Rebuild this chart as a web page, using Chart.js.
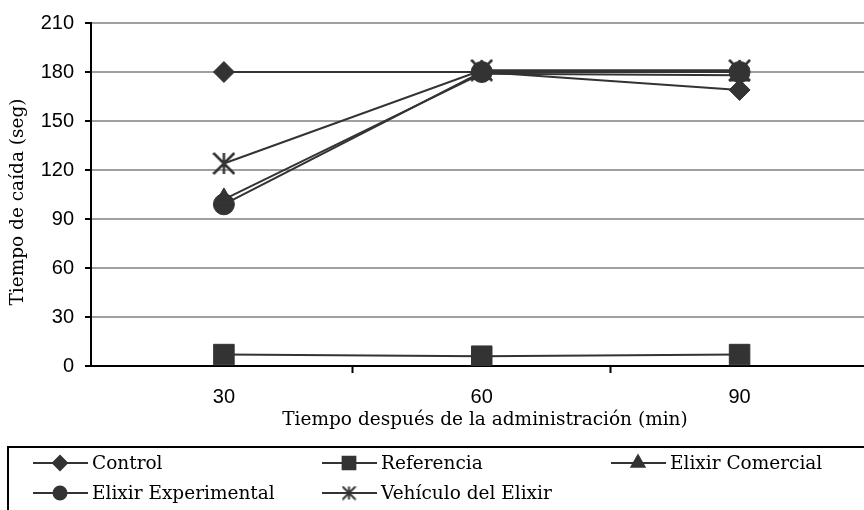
<!DOCTYPE html>
<html>
<head>
<meta charset="utf-8">
<script src="https://cdn.jsdelivr.net/npm/chart.js@4.4.1/dist/chart.umd.min.js"></script>
<style>
  html, body { margin: 0; padding: 0; background: #fff; overflow: hidden; }
  #wrap { width: 880px; height: 510px; }
</style>
</head>
<body>
<div id="wrap"><canvas id="grafico" width="880" height="510"></canvas></div>
<script>
// minutos después de la administración
const categorias = [30, 60, 90];
const yTicks = [0, 30, 60, 90, 120, 150, 180, 210];

// tiempo de caída (seg) por grupo
const control = [180, 180, 169];
const referencia = [7, 6, 7];
const elixirComercial = [102, 179, 178];
const elixirExperimental = [99, 180, 180];
const vehiculoElixir = [124, 181, 181];

const COLOR = '#333333';
const SERIF = '"DejaVu Serif", serif';
const SANS = '"Liberation Sans", Arial, sans-serif';

// asterisco de seis brazos (vertical + X)
function crearAsterisco(tam, grosor) {
    const c = document.createElement('canvas');
    c.width = tam; c.height = tam;
    const g = c.getContext('2d');
    const m = tam / 2, r = tam / 2 - 1;
    g.strokeStyle = COLOR;
    g.lineWidth = grosor;
    g.beginPath();
    g.moveTo(m, m - r); g.lineTo(m, m + r);
    g.moveTo(m - r, m - r); g.lineTo(m + r, m + r);
    g.moveTo(m + r, m - r); g.lineTo(m - r, m + r);
    g.stroke();
    return c;
}

function puntos(valores) {
    return categorias.map((c, i) => ({ x: c, y: valores[i] }));
}

function serie(label, valores, estilo, radio, radioLeyenda) {
    return {
        label: label,
        data: puntos(valores),
        borderColor: COLOR,
        backgroundColor: COLOR,
        borderWidth: 2,
        pointStyle: estilo,
        pointRadius: radio,
        pointBackgroundColor: COLOR,
        pointBorderColor: COLOR,
        pointBorderWidth: 1,
        tension: 0,
        radioLeyenda: radioLeyenda
    };
}

// títulos de ejes y leyenda en caja con tres columnas
const leyendaCaja = {
    id: 'leyendaCaja',
    afterDraw(chart) {
        const ctx = chart.ctx;
        ctx.save();
        ctx.fillStyle = '#000';
        ctx.font = '18.5px ' + SERIF;
        ctx.textAlign = 'center';
        ctx.textBaseline = 'middle';
        ctx.fillText('Tiempo después de la administración (min)', 485, 420);
        ctx.save();
        ctx.translate(18, 202);
        ctx.rotate(-Math.PI / 2);
        ctx.fillText('Tiempo de caída (seg)', 0, 0);
        ctx.restore();

        ctx.strokeStyle = '#000';
        ctx.lineWidth = 2;
        ctx.strokeRect(8, 447, 900, 100);
        chart.data.datasets.forEach((ds, i) => {
            const x = 33 + (i % 3) * 289;
            const y = 463 + Math.floor(i / 3) * 30;
            ctx.strokeStyle = COLOR;
            ctx.lineWidth = 2;
            ctx.beginPath();
            ctx.moveTo(x, y);
            ctx.lineTo(x + 55, y);
            ctx.stroke();
            ctx.fillStyle = COLOR;
            const estilo = ds.pointStyle instanceof HTMLCanvasElement ? crearAsterisco(15, 2) : ds.pointStyle;
            Chart.helpers.drawPoint(ctx, {
                pointStyle: estilo,
                radius: ds.radioLeyenda,
                rotation: 0,
                borderWidth: 1
            }, x + 27, y);
            ctx.fillStyle = '#000';
            ctx.font = '18.5px ' + SERIF;
            ctx.textBaseline = 'middle';
            ctx.textAlign = 'left';
            ctx.fillText(ds.label, x + 59, y + 1);
        });
        ctx.restore();
    }
};

const ctx = document.getElementById('grafico').getContext('2d');
new Chart(ctx, {
    type: 'line',
    data: {
        datasets: [
            serie('Control', control, 'rectRot', 10.5, 7),
            serie('Referencia', referencia, 'rect', 14.5, 9),
            serie('Elixir Comercial', elixirComercial, 'triangle', 11.5, 7.5),
            serie('Elixir Experimental', elixirExperimental, 'circle', 10.5, 6.5),
            serie('Vehículo del Elixir', vehiculoElixir, crearAsterisco(23, 2.5), 11.5, 7)
        ]
    },
    options: {
        responsive: false,
        animation: false,
        events: [],
        layout: { padding: { top: 22, right: 15, bottom: 78, left: 0 } },
        plugins: {
            legend: { display: false },
            tooltip: { enabled: false }
        },
        scales: {
            x: {
                type: 'linear',
                min: 14.535,
                max: 104.535,
                afterBuildTicks: scale => {
                    // etiquetas en cada categoría, marcas entre categorías
                    const t = [];
                    categorias.forEach((c, i) => {
                        t.push({ value: c });
                        if (i < categorias.length - 1) t.push({ value: (c + categorias[i + 1]) / 2 });
                    });
                    scale.ticks = t;
                },
                afterFit: scale => { scale.height = 66; },
                ticks: {
                    autoSkip: false,
                    maxRotation: 0,
                    padding: 12,
                    color: '#000',
                    font: { family: SANS, size: 20 },
                    callback: v => (categorias.includes(v) ? String(v) : '')
                },
                grid: {
                    drawOnChartArea: false,
                    drawTicks: true,
                    tickLength: 7,
                    tickWidth: 2,
                    tickColor: c => (c.tick && categorias.includes(c.tick.value) ? 'rgba(0,0,0,0)' : '#000')
                },
                border: { display: true, color: '#000', width: 2 }
            },
            y: {
                min: yTicks[0],
                max: yTicks[yTicks.length - 1],
                afterBuildTicks: scale => { scale.ticks = yTicks.map(v => ({ value: v })); },
                afterFit: scale => { scale.width = 91; },
                ticks: {
                    padding: 11,
                    color: '#000',
                    font: { family: SANS, size: 20 }
                },
                grid: {
                    color: c => (c.tick && c.tick.value === 0 ? '#000' : '#a0a0a0'),
                    lineWidth: 2,
                    drawTicks: true,
                    tickLength: 6,
                    tickWidth: 2,
                    tickColor: '#000'
                },
                border: { display: true, color: '#000', width: 2 }
            }
        }
    },
    plugins: [leyendaCaja]
});
</script>
</body>
</html>
